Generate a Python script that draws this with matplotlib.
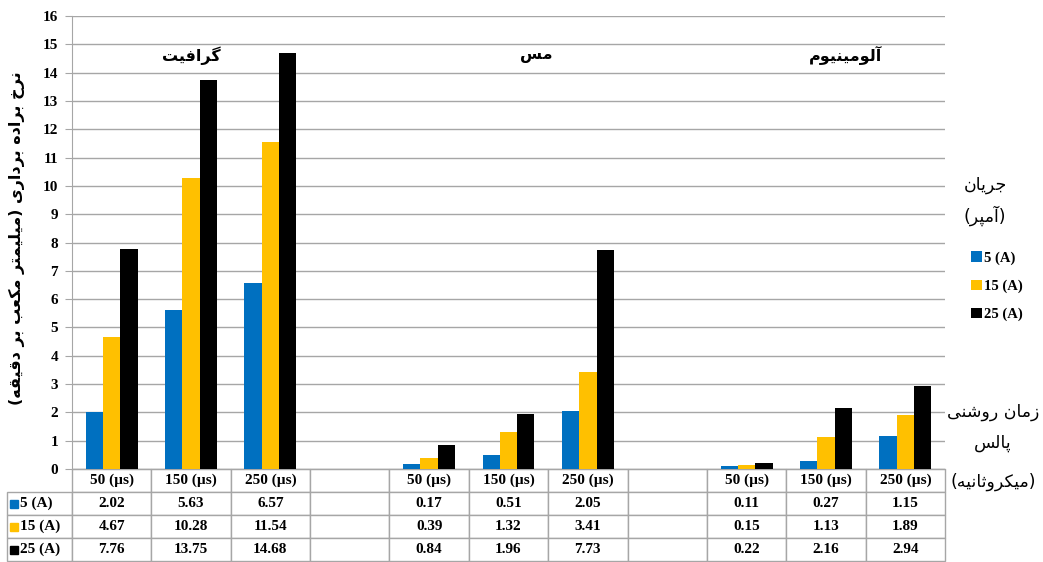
import numpy as np
import matplotlib.pyplot as plt
from matplotlib.table import Table
from matplotlib.patches import Rectangle

# --- data -------------------------------------------------------------
materials = ['گرافیت', 'مس', 'آلومینیوم']
pulse_labels = ['50 (µs)', '150 (µs)', '250 (µs)']
current_labels = ['5 (A)', '15 (A)', '25 (A)']
colors = ['#0070C0', '#FFC000', '#000000']

# material removal rate, rows = current, columns = pulse on-time
graphite = [[2.02, 5.63, 6.57],
            [4.67, 10.28, 11.54],
            [7.76, 13.75, 14.68]]
copper = [[0.17, 0.51, 2.05],
          [0.39, 1.32, 3.41],
          [0.84, 1.96, 7.73]]
aluminium = [[0.11, 0.27, 1.15],
             [0.15, 1.13, 1.89],
             [0.22, 2.16, 2.94]]

y_title = 'نرخ براده برداری (میلیمتر مکعب بر دقیقه)'
legend_title = ['جریان', '(آمپر)']
x_title = ['زمان روشنی', 'پالس', '(میکروثانیه)']

# --- minimal arabic/persian shaping (matplotlib has no CTL) -----------
FORMS = {  # isolated, final, initial, medial
    '\u0622': (0xFE81, 0xFE82),
    '\u0627': (0xFE8D, 0xFE8E),
    '\u0628': (0xFE8F, 0xFE90, 0xFE91, 0xFE92),
    '\u067E': (0xFB56, 0xFB57, 0xFB58, 0xFB59),
    '\u062A': (0xFE95, 0xFE96, 0xFE97, 0xFE98),
    '\u062B': (0xFE99, 0xFE9A, 0xFE9B, 0xFE9C),
    '\u062C': (0xFE9D, 0xFE9E, 0xFE9F, 0xFEA0),
    '\u062E': (0xFEA5, 0xFEA6, 0xFEA7, 0xFEA8),
    '\u062F': (0xFEA9, 0xFEAA),
    '\u0631': (0xFEAD, 0xFEAE),
    '\u0632': (0xFEAF, 0xFEB0),
    '\u0633': (0xFEB1, 0xFEB2, 0xFEB3, 0xFEB4),
    '\u0634': (0xFEB5, 0xFEB6, 0xFEB7, 0xFEB8),
    '\u0639': (0xFEC9, 0xFECA, 0xFECB, 0xFECC),
    '\u0641': (0xFED1, 0xFED2, 0xFED3, 0xFED4),
    '\u0642': (0xFED5, 0xFED6, 0xFED7, 0xFED8),
    '\u06A9': (0xFB8E, 0xFB8F, 0xFB90, 0xFB91),
    '\u06AF': (0xFB92, 0xFB93, 0xFB94, 0xFB95),
    '\u0644': (0xFEDD, 0xFEDE, 0xFEDF, 0xFEE0),
    '\u0645': (0xFEE1, 0xFEE2, 0xFEE3, 0xFEE4),
    '\u0646': (0xFEE5, 0xFEE6, 0xFEE7, 0xFEE8),
    '\u0647': (0xFEE9, 0xFEEA, 0xFEEB, 0xFEEC),
    '\u0648': (0xFEED, 0xFEEE),
    '\u06CC': (0xFBFC, 0xFBFD, 0xFBFE, 0xFBFF),
}


def shape(text):
    out = []
    for i, ch in enumerate(text):
        f = FORMS.get(ch)
        if f is None:
            out.append(ch)
            continue
        prev = text[i - 1] if i > 0 else ''
        nxt = text[i + 1] if i + 1 < len(text) else ''
        jp = prev in FORMS and len(FORMS[prev]) == 4
        jn = len(f) == 4 and nxt in FORMS
        form = 3 if (jp and jn) else 1 if jp else 2 if jn else 0
        out.append(chr(f[form]))
    mirror = {'(': ')', ')': '('}
    return ''.join(mirror.get(c, c) for c in reversed(out))


# --- build the 11 category slots (blank slot between materials) -------
categories = []
values = [[] for _ in current_labels]
for gi, g in enumerate([graphite, copper, aluminium]):
    if gi > 0:
        categories.append('')
        for v in values:
            v.append(np.nan)
    categories += pulse_labels
    for r in range(len(current_labels)):
        values[r] += g[r]
x = np.arange(len(categories))

serif = 'Liberation Serif'
arab = 'DejaVu Sans'
grey = '#A6A6A6'

fig = plt.figure(figsize=(10.43, 5.62), dpi=100)
ax = fig.add_axes([72 / 1043, 93 / 562, 873 / 1043, 453 / 562])

w = 0.218
for r, lab in enumerate(current_labels):
    ax.bar(x + (r - 1) * w, values[r], width=w, color=colors[r], label=lab, zorder=3)

ax.set_xlim(-0.5, len(categories) - 0.5)
ax.set_ylim(0, 16)
ax.set_yticks(range(0, 17))
ax.set_xticks([])
ax.yaxis.grid(True, color=grey, lw=1)
ax.set_axisbelow(True)
for s in ['top', 'right']:
    ax.spines[s].set_visible(False)
for s in ['left', 'bottom']:
    ax.spines[s].set_color(grey)
ax.tick_params(axis='y', length=5, color=grey, pad=5)
for t in ax.get_yticklabels():
    t.set_fontfamily(serif)
    t.set_fontweight('bold')
    t.set_fontsize(11)

ax.set_ylabel(shape(y_title), fontfamily=arab, fontweight='bold', fontsize=11.5, va='center')
ax.yaxis.set_label_coords(-0.063, 0.51)

# material names inside the plot
for name, xp in zip(materials, [1.0, 5.35, 9.25]):
    ax.text(xp, 14.6, shape(name), fontfamily=arab, fontweight='bold', fontsize=11.5,
            ha='center', va='center')

# data table under the axis
tbl_h = 92 / 453
row_h = tbl_h / 4
col_w = 1 / len(categories)
label_w = 65 / 873
tab = Table(ax, bbox=[0, -tbl_h, 1, tbl_h])
for c, lab in enumerate(categories):
    tab.add_cell(0, c, col_w, row_h, text=lab, loc='center')
for r in range(len(current_labels)):
    cell = tab.add_cell(r + 1, -1, label_w, row_h, text=current_labels[r], loc='left')
    cell.PAD = 0.2
    for c in range(len(categories)):
        v = values[r][c]
        tab.add_cell(r + 1, c, col_w, row_h, text='' if np.isnan(v) else f'{v:.2f}', loc='center')
tab.auto_set_font_size(False)
tab.set_fontsize(11)
for cell in tab.get_celld().values():
    cell.set_edgecolor(grey)
    cell.set_linewidth(1)
    cell.get_text().set_fontfamily(serif)
    cell.get_text().set_fontweight('bold')
ax.add_table(tab)

# colour keys in the row labels
for r, col in enumerate(colors):
    yc = -row_h * (r + 1.5)
    ax.add_patch(Rectangle((-62 / 873, yc - 4 / 453), 8 / 873, 8 / 453, color=col,
                           transform=ax.transAxes, clip_on=False))

# legend on the right, its heading drawn above it
for txt, yp in zip(legend_title, [185, 216]):
    fig.text(985 / 1043, 1 - yp / 562, shape(txt), fontfamily=arab, fontsize=12.5,
             ha='center', va='center')
ax.legend(loc='upper left', bbox_to_anchor=(967 / 1043, 1 - 247 / 562),
          bbox_transform=fig.transFigure, frameon=False, handlelength=0.75, handleheight=0.75,
          handletextpad=0.1, labelspacing=1.0, borderaxespad=0, borderpad=0.3,
          prop={'family': serif, 'weight': 'bold', 'size': 10.5})

# category axis title on the right, below the legend
for txt, yp in zip(x_title, [412, 443, 482]):
    fig.text(993 / 1043, 1 - yp / 562, shape(txt), fontfamily=arab, fontsize=12.5,
             ha='center', va='center')

fig.savefig('out.png', dpi=100)
